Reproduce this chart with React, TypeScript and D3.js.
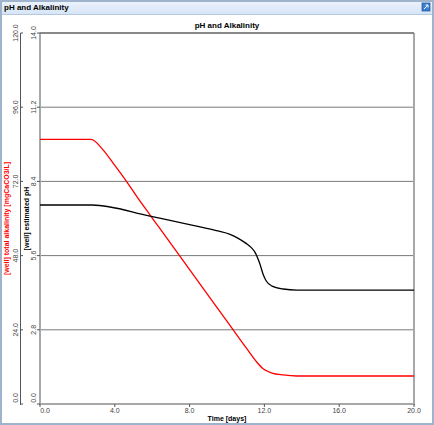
import React from "react";
import * as d3 from "d3";

const xTicks = [0, 4, 8, 12, 16, 20];
const phTicks = [0, 2.8, 5.6, 8.4, 11.2, 14];
const alkTicks = [0, 24, 48, 72, 96, 120];

const alkDays = [0, 2.73, 3.37, 3.9, 4.65, 5.19, 5.88, 6.31, 8.56, 10.16, 11.07, 11.6, 11.93, 12.41, 13.0, 13.74, 20];
const alkValues = [85.6, 85.6, 82.2, 78.0, 71.8, 67.0, 61.2, 57.6, 38.8, 25.4, 17.8, 13.5, 11.4, 10.0, 9.4, 9.06, 9.06];

const phDays = [0, 2.78, 5.88, 8.56, 9.5, 10.16, 10.6, 11.0, 11.3, 11.5, 11.76, 11.93, 12.1, 12.41, 13.0, 13.74, 20];
const phValues = [7.51, 7.51, 7.09, 6.68, 6.53, 6.4, 6.25, 6.07, 5.9, 5.72, 5.28, 4.9, 4.64, 4.45, 4.34, 4.3, 4.3];

const W = 434;
const H = 425;
const L = 40, R = 414, T = 33, B = 404;
const font = "Liberation Sans, Arial, sans-serif";

export default function App() {
  const x = d3.scaleLinear().domain([0, 20]).range([L, R]);
  const yPh = d3.scaleLinear().domain([0, 14]).range([B, T]);
  const yAlk = d3.scaleLinear().domain([0, 120]).range([B, T]);

  const alkLine = d3
    .line<number>()
    .x((_, i) => x(alkDays[i]))
    .y((d) => yAlk(d))
    .curve(d3.curveMonotoneX)(alkValues) as string;
  const phLine = d3
    .line<number>()
    .x((_, i) => x(phDays[i]))
    .y((d) => yPh(d))
    .curve(d3.curveMonotoneX)(phValues) as string;

  const mid = (T + B) / 2;

  return (
    <svg width={W} height={H} style={{ position: "absolute", left: 0, top: 0 }} fontFamily={font}>
      <defs>
        <linearGradient id="tb" x1="0" y1="0" x2="0" y2="1">
          <stop offset="0" stopColor="#eef4fc" />
          <stop offset="1" stopColor="#d6e5f6" />
        </linearGradient>
      </defs>
      <rect x={0} y={0} width={W} height={H} fill="#ffffff" />
      <rect x={0} y={0} width={W} height={14} fill="url(#tb)" />
      <line x1={0} x2={W} y1={14.5} y2={14.5} stroke="#b4c8e0" />
      <rect x={1} y={1} width={W - 2} height={H - 2} fill="none" stroke="#9fb3cc" strokeWidth={2} />
      <text x={4} y={10} fontSize={8} fontWeight="bold" fill="#000">pH and Alkalinity</text>
      <g transform="translate(422,3)">
        <rect x={0} y={0} width={8} height={8} fill="#3b7fd0" stroke="#1d4f9a" strokeWidth={0.7} />
        <path d="M2,6 L6,2 M3.5,2 L6,2 L6,4.5" stroke="#fff" strokeWidth={1} fill="none" />
      </g>

      <text x={(L + R) / 2} y={28} textAnchor="middle" fontSize={8} fontWeight="bold" fill="#000">
        pH and Alkalinity
      </text>

      {phTicks.slice(1).map((t) => (
        <line key={"g" + t} x1={L} x2={R} y1={yPh(t)} y2={yPh(t)} stroke="#7a7a7a" strokeWidth={1} />
      ))}

      <line x1={L} x2={L} y1={T} y2={B} stroke="#a8a8a8" strokeWidth={2} />
      <line x1={R} x2={R} y1={T} y2={B + 1} stroke="#a8a8a8" strokeWidth={2} />
      <line x1={L - 1} x2={R + 1} y1={B} y2={B} stroke="#a8a8a8" strokeWidth={2} />
      <line x1={L} x2={R} y1={T} y2={T} stroke="#555" strokeWidth={1} />

      <line x1={20.5} x2={20.5} y1={T} y2={B + 1} stroke="#555" strokeWidth={1} />
      {alkTicks.map((t) => (
        <g key={"a" + t}>
          <line x1={20.5} x2={23} y1={yAlk(t)} y2={yAlk(t)} stroke="#555" />
          <text
            transform={`translate(18,${yAlk(t) - (t === 0 ? 6 : 0)}) rotate(-90)`}
            textAnchor="middle"
            fontSize={7}
            fill="#444"
          >
            {t.toFixed(1)}
          </text>
        </g>
      ))}
      {phTicks.map((t) => (
        <g key={"p" + t}>
          <line x1={37} x2={L} y1={yPh(t)} y2={yPh(t)} stroke="#555" />
          <text
            transform={`translate(36,${yPh(t) - (t === 0 ? 6 : 0)}) rotate(-90)`}
            textAnchor="middle"
            fontSize={7}
            fill="#444"
          >
            {t.toFixed(1)}
          </text>
        </g>
      ))}
      <text transform={`translate(9,${mid}) rotate(-90)`} textAnchor="middle" fontSize={7} fontWeight="bold" fill="#ff0000">
        [well] total alkalinity [mgCaCO3/L]
      </text>
      <text transform={`translate(29,${mid}) rotate(-90)`} textAnchor="middle" fontSize={7} fontWeight="bold" fill="#000">
        [well] estimated pH
      </text>

      {xTicks.map((t) => (
        <g key={"x" + t}>
          <line x1={x(t)} x2={x(t)} y1={B} y2={B + 3} stroke="#555" />
          <text x={x(t) + (t === 0 ? 5 : 0)} y={B + 9} textAnchor="middle" fontSize={7} fill="#444">
            {t.toFixed(1)}
          </text>
        </g>
      ))}
      <text x={(L + R) / 2} y={B + 17} textAnchor="middle" fontSize={7} fontWeight="bold" fill="#000">
        Time [days]
      </text>

      <path d={alkLine} fill="none" stroke="#ff0000" strokeWidth={1.3} />
      <path d={phLine} fill="none" stroke="#000" strokeWidth={1.3} />
    </svg>
  );
}
